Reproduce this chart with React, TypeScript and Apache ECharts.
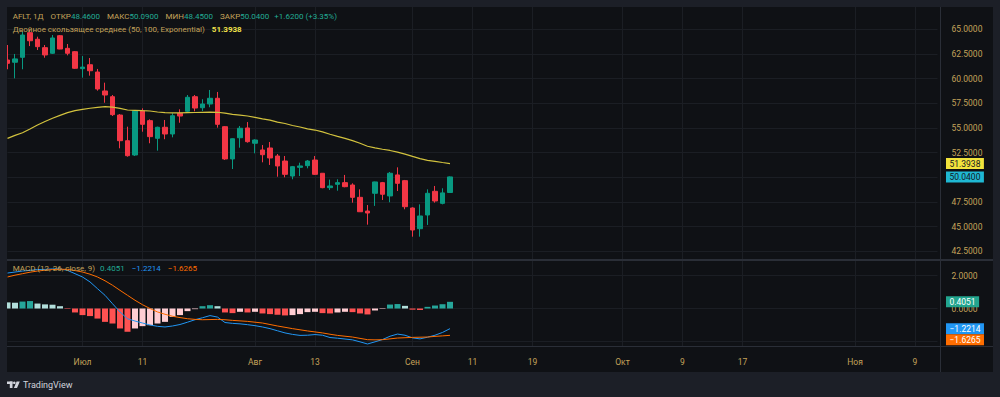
import React, { useEffect, useRef } from "react";
import * as echarts from "echarts";

// ---------- data ----------
const N_SLOTS = 125;
const categories = Array.from({ length: N_SLOTS }, (_, i) => String(i));

const openP = [61.89, 61.66, 62.16, 64.66, 63.99, 63.14, 62.57, 64.35, 63.07, 62.73, 61.01, 61.41, 60.67, 58.75, 58.17, 56.31, 53.71, 52.26, 56.75, 55.74, 53.95, 55.07, 54.39, 56.49, 56.69, 58.17, 57.05, 57.43, 58.01, 55.13, 51.86, 54.01, 55.0, 53.45, 52.77, 52.97, 52.16, 51.65, 50.13, 51.01, 51.18, 51.75, 50.41, 48.95, 49.29, 49.46, 49.22, 47.97, 46.58, 48.38, 49.46, 48.11, 50.24, 49.66, 46.89, 44.79, 46.18, 48.58, 47.36, 48.46];
const closeP = [61.55, 62.0, 64.42, 63.84, 63.24, 62.4, 64.12, 63.0, 62.57, 61.05, 61.17, 60.8, 58.95, 58.34, 56.35, 53.71, 52.19, 56.75, 55.37, 54.12, 55.07, 54.39, 56.24, 56.21, 58.11, 57.02, 57.43, 58.01, 55.37, 51.86, 53.91, 54.97, 53.61, 53.78, 52.29, 51.96, 51.15, 50.3, 51.08, 51.15, 51.65, 50.3, 48.95, 49.12, 49.46, 49.05, 47.97, 46.51, 46.38, 49.53, 48.28, 50.41, 49.39, 47.02, 44.66, 46.08, 48.38, 47.6, 48.42, 50.04];
const lowP = [60.95, 60.03, 60.95, 63.3, 62.9, 62.12, 62.5, 62.98, 62.36, 60.98, 60.1, 60.3, 58.78, 57.56, 56.21, 52.94, 52.09, 52.16, 54.62, 53.45, 52.7, 53.86, 54.05, 55.53, 56.62, 56.69, 56.72, 57.1, 55.03, 51.76, 50.84, 53.0, 53.51, 52.43, 51.52, 51.25, 50.06, 50.0, 49.8, 50.13, 50.91, 50.24, 48.89, 48.71, 48.64, 48.99, 47.43, 46.51, 45.2, 47.1, 47.7, 47.47, 48.61, 46.76, 43.98, 43.98, 45.17, 47.43, 47.26, 48.45];
const highP = [63.41, 62.5, 64.76, 65.0, 64.25, 63.41, 64.42, 64.42, 63.51, 62.8, 62.29, 62.09, 60.98, 59.59, 58.34, 56.41, 55.13, 56.82, 56.99, 55.88, 55.13, 55.81, 56.49, 56.89, 58.34, 58.34, 57.91, 58.85, 58.65, 55.2, 53.95, 55.2, 55.6, 53.85, 53.27, 53.58, 52.36, 52.16, 51.15, 51.48, 51.75, 52.16, 50.41, 49.77, 49.8, 50.24, 49.39, 48.78, 47.19, 49.56, 49.53, 50.54, 51.01, 49.73, 46.96, 47.26, 48.78, 49.12, 48.89, 50.09];

const dema = [53.95, 54.25, 54.52, 54.9, 55.3, 55.65, 55.98, 56.28, 56.55, 56.75, 56.89, 57.0, 57.09, 57.16, 57.12, 56.99, 56.82, 56.79, 56.75, 56.72, 56.62, 56.56, 56.52, 56.53, 56.55, 56.57, 56.59, 56.6, 56.59, 56.5, 56.38, 56.31, 56.21, 56.08, 55.93, 55.8, 55.6, 55.45, 55.25, 55.1, 54.9, 54.79, 54.6, 54.36, 54.15, 53.95, 53.72, 53.45, 53.15, 52.98, 52.84, 52.72, 52.55, 52.35, 52.12, 51.9, 51.72, 51.62, 51.5, 51.3938];

const macdLine = [2.15, 2.21, 2.27, 2.31, 2.36, 2.37, 2.4, 2.4, 2.31, 2.11, 1.91, 1.61, 1.2, 0.8, 0.29, -0.21, -0.62, -0.76, -0.88, -1.0, -1.08, -1.12, -1.06, -0.97, -0.83, -0.68, -0.56, -0.43, -0.52, -0.85, -0.9, -0.93, -0.98, -1.04, -1.12, -1.22, -1.35, -1.48, -1.57, -1.63, -1.62, -1.58, -1.62, -1.76, -1.8, -1.85, -1.9, -2.02, -2.15, -2.02, -1.88, -1.68, -1.55, -1.62, -1.78, -1.84, -1.74, -1.62, -1.45, -1.2214];
const signalLine = [1.91, 2.02, 2.11, 2.2, 2.27, 2.32, 2.36, 2.38, 2.37, 2.3, 2.21, 2.08, 1.91, 1.68, 1.41, 1.1, 0.8, 0.5, 0.23, 0.0, -0.21, -0.35, -0.47, -0.55, -0.62, -0.66, -0.68, -0.67, -0.66, -0.68, -0.72, -0.75, -0.78, -0.83, -0.88, -0.97, -1.06, -1.14, -1.22, -1.29, -1.36, -1.42, -1.48, -1.56, -1.63, -1.68, -1.73, -1.81, -1.89, -1.9, -1.89, -1.84, -1.79, -1.77, -1.75, -1.74, -1.73, -1.69, -1.66, -1.6265];
const histogram = [0.37, 0.35, 0.42, 0.45, 0.3, 0.25, 0.23, 0.14, -0.03, -0.24, -0.4, -0.46, -0.61, -0.81, -0.91, -1.21, -1.41, -1.21, -1.07, -1.01, -0.91, -0.81, -0.51, -0.4, -0.16, -0.04, 0.14, 0.2, 0.14, -0.24, -0.28, -0.2, -0.24, -0.2, -0.3, -0.34, -0.38, -0.42, -0.4, -0.34, -0.22, -0.2, -0.28, -0.3, -0.24, -0.2, -0.22, -0.3, -0.36, -0.12, -0.03, 0.24, 0.27, 0.16, -0.07, -0.09, 0.1, 0.18, 0.26, 0.4051];

const xTickIndex = [10, 18, 33, 41, 54, 62, 70, 82, 90, 98, 113, 121];
const xTickLabels = ["Июл", "11", "Авг", "13", "Сен", "11", "19", "Окт", "9", "17", "Ноя", "9"];

// ---------- styles ----------
const FRAME = "#1c1f27";
const PANE = "#0f1115";
const GRID = "#1b1e24";
const SEP = "#2a2e37";
const GOLD = "#c4a35a";
const UP = "#089981";
const DOWN = "#f23645";
const TEAL_TXT = "#22ab94";
const DEMA_C = "#d2c23e";
const MACD_C = "#2196f3";
const SIG_C = "#ff6d00";
const FONT = "Roboto";
const FS = 8.5;
const LFS = 8;

const fmt = (v: number) => (v < 0 ? "\u2212" + Math.abs(v).toFixed(4) : v.toFixed(4));

export default function App() {
  const ref = useRef<HTMLDivElement>(null);

  useEffect(() => {
    if (!ref.current) return;
    const chart = echarts.init(ref.current, undefined, { renderer: "svg" });
    const last = openP.length - 1;

    const candleData = openP.map((o, i) => [o, closeP[i], lowP[i], highP[i]]);
    const histData = histogram.map((h, i) => {
      const prev = i > 0 ? histogram[i - 1] : h + 0.01;
      const color = h >= 0 ? (h > prev ? "#26a69a" : "#b2dfdb") : h < prev ? "#ff5252" : "#ffcdd2";
      return { value: h, itemStyle: { color } };
    });

    const labelMap: Record<number, string> = {};
    xTickIndex.forEach((ix, k) => (labelMap[ix] = xTickLabels[k]));
    const isTick = (i: number) => labelMap[i] !== undefined;

    const gridBase = { left: 7.5, right: 62.5 };
    const hiddenCat = {
      type: "category" as const,
      data: categories,
      boundaryGap: false,
      axisLine: { show: false },
      axisTick: { show: false },
      axisLabel: { show: false },
      splitLine: { show: false },
    };
    const priceAxisLabel = {
      color: GOLD,
      fontFamily: FONT,
      fontSize: FS,
      margin: 14,
      formatter: (v: number) => v.toFixed(4),
    };

    const prevClose = closeP[last - 1];
    const chg = closeP[last] - prevClose;
    const pct = (chg / prevClose) * 100;

    const f = `${LFS}px ${FONT}`;
    const rich = {
      g: { font: f, fill: GOLD },
      gs: { font: f, fill: GOLD, padding: [0, 0, 0, 7] },
      v: { font: f, fill: TEAL_TXT },
      vs: { font: f, fill: TEAL_TXT, padding: [0, 0, 0, 5] },
      ys: { font: `bold ${f}`, fill: "#f2e34a", padding: [0, 0, 0, 7] },
      bs: { font: f, fill: MACD_C, padding: [0, 0, 0, 7] },
      os: { font: f, fill: SIG_C, padding: [0, 0, 0, 7] },
    };
    const richText = (x: number, y: number, text: string) => ({
      type: "text",
      x,
      y,
      z: 50,
      style: { text, rich, font: f, fill: GOLD, verticalAlign: "middle", align: "left" },
    });

    const legend = [
      richText(
        12.7,
        16.7,
        `{g|AFLT, 1Д}{gs|ОТКР}{v|${openP[last].toFixed(4)}}{gs|МАКС}{v|${highP[last].toFixed(4)}}{gs|МИН}{v|${lowP[last].toFixed(4)}}{gs|ЗАКР}{v|${closeP[last].toFixed(4)}}{vs|+${chg.toFixed(4)} (+${pct.toFixed(2)}%)}`
      ),
      richText(12.7, 29.3, `{g|Двойное скользящее среднее (50, 100, Exponential)}{ys|${dema[last].toFixed(4)}}`),
      richText(
        12.7,
        268.7,
        `{g|MACD (12, 26, close, 9)}{vs|${fmt(histogram[last])}}{bs|${fmt(macdLine[last])}}{os|${fmt(signalLine[last])}}`
      ),
    ];

    const frame = [
      { type: "rect", z: 40, shape: { x: 0, y: 0, width: 1000, height: 7 }, style: { fill: FRAME } },
      { type: "rect", z: 40, shape: { x: 0, y: 0, width: 7, height: 397 }, style: { fill: FRAME } },
      { type: "rect", z: 40, shape: { x: 993, y: 0, width: 7, height: 397 }, style: { fill: FRAME } },
      { type: "rect", z: 40, shape: { x: 0, y: 372, width: 1000, height: 25 }, style: { fill: FRAME } },
      { type: "rect", z: 41, shape: { x: 7, y: 259, width: 986, height: 2 }, style: { fill: SEP } },
      { type: "rect", z: 41, shape: { x: 7, y: 346, width: 986, height: 1 }, style: { fill: SEP } },
      { type: "rect", z: 41, shape: { x: 940, y: 7, width: 1, height: 365 }, style: { fill: SEP } },
      // TradingView logo
      { type: "rect", z: 45, shape: { x: 7, y: 381.5, width: 5.5, height: 2.5 }, style: { fill: "#d1d4dc" } },
      { type: "rect", z: 45, shape: { x: 9.8, y: 381.5, width: 2.7, height: 6.5 }, style: { fill: "#d1d4dc" } },
      { type: "circle", z: 45, shape: { cx: 14.3, cy: 382.8, r: 1.3 }, style: { fill: "#d1d4dc" } },
      { type: "polygon", z: 45, shape: { points: [[16.6, 381.5], [19.8, 381.5], [17.0, 388], [13.9, 388]] }, style: { fill: "#d1d4dc" } },
      { type: "text", z: 45, x: 23, y: 385, style: { text: "TradingView", fill: "#d1d4dc", font: `9px ${FONT}`, verticalAlign: "middle" } },
    ];

    chart.setOption({
      animation: false,
      backgroundColor: PANE,
      grid: [
        { ...gridBase, top: 29.3, height: 222 },
        { ...gridBase, top: 275.5, height: 66 },
        { ...gridBase, top: 7, height: 339 },
      ],
      xAxis: [
        { ...hiddenCat, gridIndex: 0 },
        {
          ...hiddenCat,
          gridIndex: 1,
          axisLabel: {
            show: true,
            interval: (i: number) => isTick(i),
            formatter: (_v: string, i: number) => labelMap[i] ?? "",
            color: GOLD,
            fontFamily: FONT,
            fontSize: FS,
            margin: 16,
          },
        },
        {
          ...hiddenCat,
          gridIndex: 2,
          splitLine: { show: true, interval: (i: number) => isTick(i), lineStyle: { color: GRID, width: 1 } },
        },
      ],
      yAxis: [
        {
          type: "value",
          gridIndex: 0,
          position: "right",
          min: 42.5,
          max: 65,
          interval: 2.5,
          axisLine: { show: false },
          axisTick: { show: false },
          axisLabel: priceAxisLabel,
          splitLine: { lineStyle: { color: GRID, width: 1 } },
        },
        {
          type: "value",
          gridIndex: 1,
          position: "right",
          min: -2,
          max: 2,
          interval: 2,
          axisLine: { show: false },
          axisTick: { show: false },
          axisLabel: priceAxisLabel,
          splitLine: { lineStyle: { color: GRID, width: 1 } },
        },
        { type: "value", gridIndex: 2, show: false, splitLine: { show: false } },
      ],
      series: [
        {
          type: "candlestick",
          xAxisIndex: 0,
          yAxisIndex: 0,
          data: candleData,
          barWidth: 5,
          itemStyle: { color: UP, color0: DOWN, borderColor: UP, borderColor0: DOWN, borderWidth: 1 },
        },
        {
          type: "line",
          xAxisIndex: 0,
          yAxisIndex: 0,
          data: dema,
          showSymbol: false,
          lineStyle: { color: DEMA_C, width: 1.2 },
        },
        {
          type: "bar",
          xAxisIndex: 1,
          yAxisIndex: 1,
          data: histData,
          barWidth: 6,
        },
        {
          type: "line",
          xAxisIndex: 1,
          yAxisIndex: 1,
          data: macdLine,
          showSymbol: false,
          clip: false,
          lineStyle: { color: MACD_C, width: 1 },
        },
        {
          type: "line",
          xAxisIndex: 1,
          yAxisIndex: 1,
          data: signalLine,
          showSymbol: false,
          clip: false,
          lineStyle: { color: SIG_C, width: 1 },
        },
      ],
    });

    // price-scale badges positioned through the axes' scales
    const H = 11;
    const mkBadges = (axis: number, items: { v: number; bg: string; fg: string }[]) => {
      const arr = items
        .map((it) => ({ ...it, y: chart.convertToPixel({ yAxisIndex: axis }, it.v) as number }))
        .sort((a, b) => a.y - b.y);
      for (let i = 1; i < arr.length; i++) if (arr[i].y - arr[i - 1].y < H) arr[i].y = arr[i - 1].y + H;
      return arr.map((b) => ({
        type: "text",
        x: 946,
        y: b.y,
        z: 60,
        style: {
          text: fmt(b.v),
          fill: b.fg,
          font: `${FS}px ${FONT}`,
          verticalAlign: "middle",
          align: "left",
          backgroundColor: b.bg,
          padding: [1.5, 3.5, 1, 3.5],
          lineHeight: 8.5,
        },
      }));
    };
    const badges = [
      ...mkBadges(0, [
        { v: dema[last], bg: "#f2e33c", fg: "#131722" },
        { v: closeP[last], bg: "#1fb8d3", fg: "#131722" },
      ]),
      ...mkBadges(1, [
        { v: histogram[last], bg: "#22a58e", fg: "#ffffff" },
        { v: macdLine[last], bg: MACD_C, fg: "#ffffff" },
        { v: signalLine[last], bg: SIG_C, fg: "#ffffff" },
      ]),
    ];

    chart.setOption({ graphic: [...frame, ...legend, ...badges] });

    return () => chart.dispose();
  }, []);

  return (
    <div style={{ position: "fixed", left: 0, top: 0, width: 1000, height: 397, background: FRAME }}>
      <div ref={ref} style={{ width: 1000, height: 397 }} />
    </div>
  );
}
